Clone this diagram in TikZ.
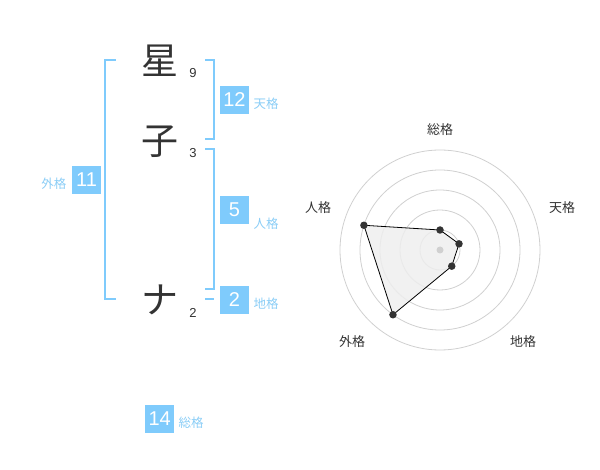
\documentclass[tikz,border=0pt]{standalone}
\usepackage{fontspec}
\setmainfont{Noto Sans CJK JP}
\newfontfamily\digitfont{Liberation Sans}
\definecolor{skyline}{HTML}{7FCBFC}
\definecolor{skytext}{HTML}{8ACDF6}
\definecolor{inkgray}{HTML}{333333}
\definecolor{ringgray}{HTML}{D0D0D0}
\definecolor{areagray}{HTML}{EEEEEE}
\begin{document}
\begin{tikzpicture}[
        x=1pt, y=-1pt,
        kanji/.style={text=inkgray, font=\fontsize{37}{37}\selectfont, inner sep=0pt},
        stroke/.style={text=inkgray, font=\digitfont\fontsize{13}{13}\selectfont, inner sep=0pt},
        kakubox/.style={fill=skyline, text=white, minimum width=29pt, minimum height=28pt, inner sep=0pt, font=\digitfont\fontsize{20}{20}\selectfont},
        kakuname/.style={text=skytext, font=\fontsize{12.5}{12.5}\selectfont, inner sep=0pt},
        bracket/.style={draw=skyline, line width=2pt},
        ring/.style={draw=ringgray, line width=0.8pt},
        axisname/.style={text=inkgray, font=\fontsize{13}{13}\selectfont, inner sep=0pt},
        dot/.style={circle, fill=inkgray, inner sep=0pt, minimum size=7.5pt},
    ]
    \useasboundingbox (0,0) rectangle (600,470);
    % name and stroke counts
    \node[kanji](hoshi) at (160,61){星};
    \node[stroke](n9) at (193,73){9};
    \node[kanji](ko) at (160,142){子};
    \node[stroke](n3) at (193,153){3};
    \node[kanji](na) at (160,300){ナ};
    \node[stroke](n2) at (193,312.5){2};
    % brackets
    \draw[bracket] (115.7,60) -- (105,60) -- (105,299.3) -- (115.7,299.3);
    \draw[bracket] (205,60) -- (214.3,60) -- (214.3,139.3) -- (205,139.3);
    \draw[bracket] (205,149.3) -- (214.3,149.3) -- (214.3,289.3) -- (205,289.3);
    \draw[bracket] (205,299.3) -- (214.3,299.3);
    % results
    \node[kakubox](ten) at (234.5,100){12};
    \node[kakuname, anchor=west](tenl) at (253.5,104){天格};
    \node[kakubox](jin) at (234.5,210){5};
    \node[kakuname, anchor=west](jinl) at (253.5,224){人格};
    \node[kakubox](chi) at (234.5,300){2};
    \node[kakuname, anchor=west](chil) at (253.5,304){地格};
    \node[kakubox](gai) at (86.5,180){11};
    \node[kakuname, anchor=east](gail) at (66.5,184){外格};
    \node[kakubox](sou) at (159.7,419){14};
    \node[kakuname, anchor=west](soul) at (178.5,423){総格};
    % radar
    \coordinate (c) at (440,250);
    \foreach \r in {20,40,...,100}
        \draw[ring] (c) circle (\r pt);
    \coordinate (psou) at ([shift={(90:20pt)}]c);
    \coordinate (pten) at ([shift={(18:20pt)}]c);
    \coordinate (pchi) at ([shift={(-54:20pt)}]c);
    \coordinate (pgai) at ([shift={(-126:80pt)}]c);
    \coordinate (pjin) at ([shift={(162:80pt)}]c);
    \draw[fill=areagray, fill opacity=0.85, draw=black, line width=0.8pt]
        (psou) -- (pten) -- (pchi) -- (pgai) -- (pjin) -- cycle;
    \node[circle, fill=ringgray, inner sep=0pt, minimum size=7pt](mid) at (c){};
    \foreach \p in {psou,pten,pchi,pgai,pjin}
        \node[dot] at (\p){};
    \node[axisname](asou) at (440,130){総格};
    \node[axisname](aten) at (562,208){天格};
    \node[axisname](ajin) at (318,208){人格};
    \node[axisname](agai) at (352,342){外格};
    \node[axisname](achi) at (523,342){地格};
\end{tikzpicture}
\end{document}
